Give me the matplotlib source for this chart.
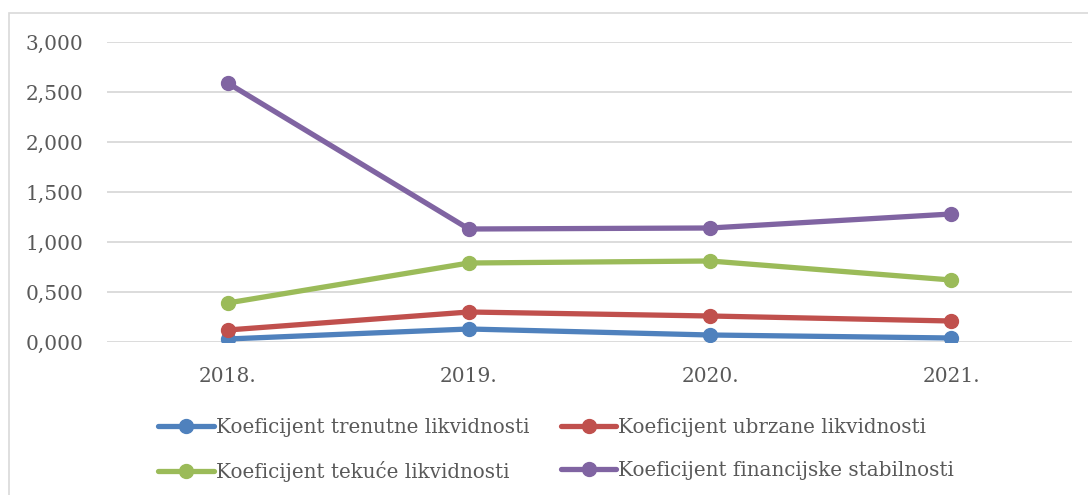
import matplotlib.pyplot as plt
import matplotlib.patches as patches
from matplotlib.ticker import FuncFormatter

# podaci
godine = ['2018.', '2019.', '2020.', '2021.']
trenutna = [0.03, 0.13, 0.07, 0.04]
ubrzana = [0.12, 0.30, 0.26, 0.21]
tekuca = [0.39, 0.79, 0.81, 0.62]
stabilnost = [2.59, 1.13, 1.14, 1.28]

serije = [
    (trenutna, 'Koeficijent trenutne likvidnosti', '#4F81BD'),
    (ubrzana, 'Koeficijent ubrzane likvidnosti', '#C0504D'),
    (tekuca, 'Koeficijent tekuće likvidnosti', '#9BBB59'),
    (stabilnost, 'Koeficijent financijske stabilnosti', '#8064A2'),
]

plt.rcParams['font.family'] = ['DejaVu Serif']
siva = '#595959'

fig = plt.figure(figsize=(10.88, 4.95), dpi=100)
ax = fig.add_axes([107 / 1088, 1 - 342 / 495, 965 / 1088, 300 / 495])

x = range(len(godine))
linije = []
for vals, naziv, boja in serije:
    l, = ax.plot(x, vals, color=boja, lw=3.8, marker='o', ms=10, label=naziv,
                 solid_capstyle='round')
    linije.append(l)

ax.set_xlim(-0.5, len(godine) - 0.5)
ax.set_ylim(0, 3)
ax.set_yticks([0, 0.5, 1, 1.5, 2, 2.5, 3])
ax.yaxis.set_major_formatter(FuncFormatter(lambda v, p: ('%.3f' % v).replace('.', ',')))
ax.set_xticks(list(x))
ax.set_xticklabels(godine)
ax.grid(axis='y', color='#D9D9D9', lw=1.3)
ax.set_axisbelow(True)
for s in ax.spines.values():
    s.set_visible(False)
ax.tick_params(length=0, labelsize=14.5, colors=siva)
ax.tick_params(axis='y', pad=17)
ax.tick_params(axis='x', pad=18)

# legenda po redovima: plava, crvena / zelena, ljubicasta
red = [linije[0], linije[2], linije[1], linije[3]]
leg = fig.legend(red, [l.get_label() for l in red], loc='upper left',
                 bbox_to_anchor=(150 / 1088, 1 - 410 / 495), ncol=2,
                 frameon=False, fontsize=14.3, handlelength=2.8, handletextpad=0.1,
                 columnspacing=1.6, labelspacing=1.2, borderaxespad=0)
for t in leg.get_texts():
    t.set_color(siva)

# okvir grafikona
fig.patches.append(patches.Rectangle((9 / 1088, -0.1), 1.2, 1 - 13 / 495 + 0.1,
                                     transform=fig.transFigure, fill=False,
                                     edgecolor='#D9D9D9', lw=1.2))

plt.savefig('out.png', dpi=100)
